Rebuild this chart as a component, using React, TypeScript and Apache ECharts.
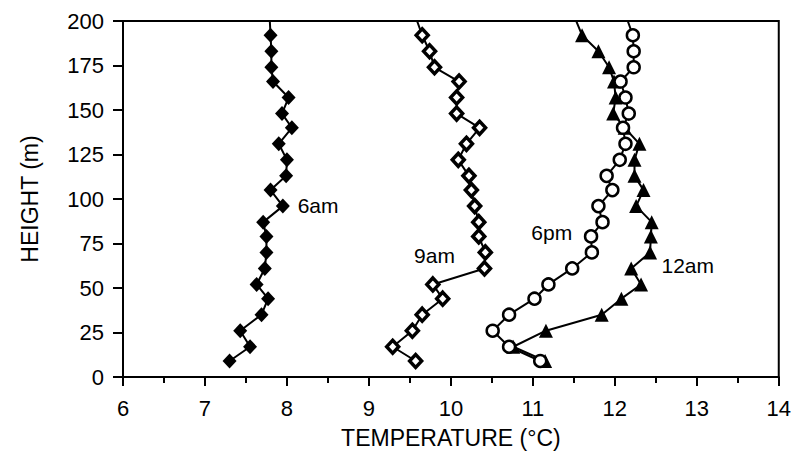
import React, { useEffect, useRef } from "react";
import * as echarts from "echarts";

const heights = [9, 17, 26, 35, 44, 52, 61, 70, 79, 87, 96, 105, 113, 122, 131, 140, 148, 157, 166, 174, 183, 192, 201];
const temp6am = [7.30, 7.55, 7.43, 7.69, 7.77, 7.63, 7.73, 7.75, 7.75, 7.71, 7.95, 7.80, 7.99, 8.00, 7.90, 8.06, 7.94, 8.02, 7.83, 7.81, 7.81, 7.80, 7.79];
const temp9am = [9.57, 9.29, 9.53, 9.65, 9.90, 9.78, 10.41, 10.42, 10.34, 10.34, 10.29, 10.25, 10.22, 10.09, 10.19, 10.35, 10.07, 10.07, 10.10, 9.80, 9.74, 9.65, 9.58];
const temp6pm = [11.09, 10.71, 10.51, 10.71, 11.02, 11.19, 11.48, 11.72, 11.71, 11.85, 11.80, 11.97, 11.90, 12.06, 12.13, 12.10, 12.17, 12.13, 12.07, 12.23, 12.23, 12.22, 12.15];
const temp12am = [11.15, 10.76, 11.16, 11.84, 12.08, 12.32, 12.20, 12.43, 12.44, 12.45, 12.26, 12.35, 12.24, 12.24, 12.30, 12.12, 11.98, 12.01, 11.99, 11.93, 11.80, 11.60, 11.52];

const seriesNames = ["6am", "9am", "6pm", "12am"];
const labelX = [8.38, 9.8, 11.23, 12.89];
const labelY = [96.6, 68.5, 80.9, 62.4];

const xTicks = [6, 7, 8, 9, 10, 11, 12, 13, 14];
const yTicks = [0, 25, 50, 75, 100, 125, 150, 175, 200];

const FONT = "Liberation Sans";

function pairs(xs: number[]) {
  return xs.map((x, i) => [x, heights[i]]);
}

export default function App() {
  const ref = useRef<HTMLDivElement>(null);
  useEffect(() => {
    if (!ref.current) return;
    const chart = echarts.init(ref.current, null, { renderer: "svg" });
    const lineBase = {
      type: "line",
      clip: true,
      lineStyle: { color: "#000", width: 2 },
      emphasis: { disabled: true },
      z: 2,
    };
    chart.setOption({
      animation: false,
      backgroundColor: "#fff",
      grid: {
        left: 123,
        right: 15,
        top: 21,
        bottom: 81,
        show: true,
        borderColor: "#000",
        borderWidth: 2,
        backgroundColor: "transparent",
      },
      xAxis: {
        type: "value",
        min: xTicks[0],
        max: xTicks[xTicks.length - 1],
        interval: 1,
        name: "TEMPERATURE (°C)",
        nameLocation: "middle",
        nameGap: 49,
        nameTextStyle: { fontFamily: FONT, fontSize: 23, color: "#000" },
        axisLine: { show: true, onZero: false, lineStyle: { color: "#000", width: 2 } },
        axisTick: { show: true, inside: false, length: 9, lineStyle: { color: "#000", width: 2 } },
        minorTick: { show: true, splitNumber: 2, length: 6, lineStyle: { color: "#000", width: 2 } },
        splitLine: { show: false },
        axisLabel: { fontFamily: FONT, fontSize: 22, color: "#000", margin: 20 },
      },
      yAxis: {
        type: "value",
        min: yTicks[0],
        max: yTicks[yTicks.length - 1],
        interval: 25,
        name: "HEIGHT (m)",
        nameLocation: "middle",
        nameGap: 82,
        nameTextStyle: { fontFamily: FONT, fontSize: 23, color: "#000" },
        axisLine: { show: true, onZero: false, lineStyle: { color: "#000", width: 2 } },
        axisTick: { show: true, inside: false, length: 10, lineStyle: { color: "#000", width: 2 } },
        splitLine: { show: false },
        axisLabel: { fontFamily: FONT, fontSize: 22, color: "#000", margin: 19 },
      },
      series: [
        {
          ...lineBase,
          name: seriesNames[0],
          data: pairs(temp6am),
          symbol: "diamond",
          symbolSize: [14, 15],
          itemStyle: { color: "#000", borderColor: "#000", borderWidth: 0 },
        },
        {
          ...lineBase,
          name: seriesNames[1],
          data: pairs(temp9am),
          symbol: "diamond",
          symbolSize: [12, 13],
          itemStyle: { color: "#fff", borderColor: "#000", borderWidth: 3.5 },
        },
        {
          ...lineBase,
          name: seriesNames[3],
          data: pairs(temp12am),
          symbol: "triangle",
          symbolSize: [14, 14],
          itemStyle: { color: "#000", borderColor: "#000", borderWidth: 0 },
        },
        {
          ...lineBase,
          name: seriesNames[2],
          data: pairs(temp6pm),
          symbol: "circle",
          symbolSize: 12,
          itemStyle: { color: "#fff", borderColor: "#000", borderWidth: 2.5 },
          z: 3,
        },
        {
          type: "scatter",
          name: "labels",
          symbolSize: 0,
          itemStyle: { opacity: 1, color: "#000" },
          data: seriesNames.map((n, i) => ({ value: [labelX[i], labelY[i]], name: n })),
          label: {
            show: true,
            position: "inside",
            formatter: (p: any) => p.name,
            fontFamily: FONT,
            fontSize: 21,
            color: "#000",
            opacity: 1,
            textBorderWidth: 0,
          },
          emphasis: { disabled: true },
          z: 4,
        },
      ],
    });
    return () => chart.dispose();
  }, []);
  return (
    <div
      ref={ref}
      style={{ position: "fixed", left: 0, top: 0, width: 794, height: 458, background: "#fff" }}
    />
  );
}
